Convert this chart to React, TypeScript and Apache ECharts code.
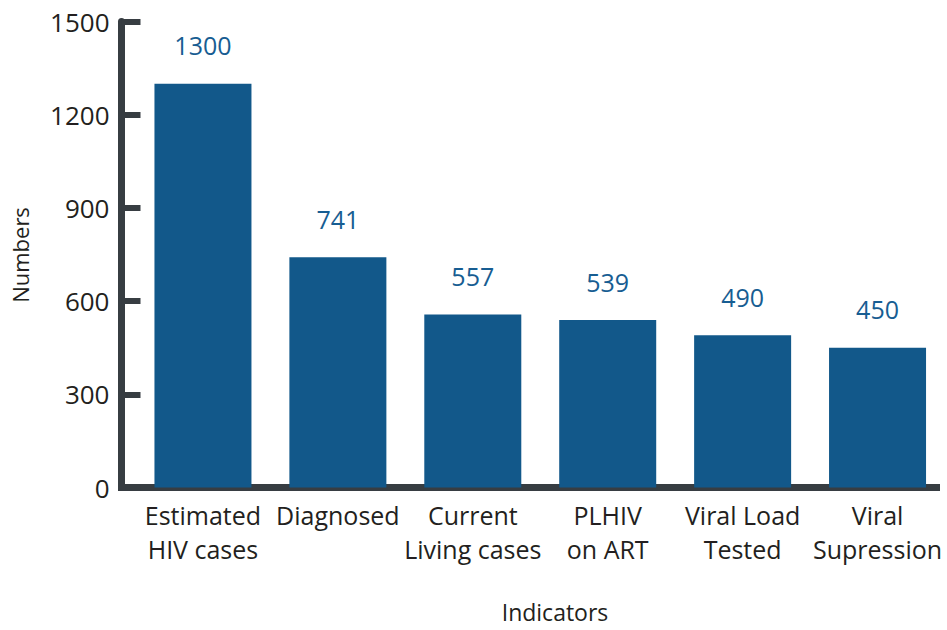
import React, { useEffect, useRef } from "react";
import * as echarts from "echarts";

const categories = [
  "Estimated\nHIV cases",
  "Diagnosed",
  "Current\nLiving cases",
  "PLHIV\non ART",
  "Viral Load\nTested",
  "Viral\nSupression",
];
const values = [1300, 741, 557, 539, 490, 450];
const yTicks = { min: 0, max: 1500, interval: 300 };

const FONT = "Open Sans";
const AXIS = "#373d42";
const BAR = "#12588a";
const LABEL = "#175d92";
const TEXT = "#231f20";

export default function App() {
  const ref = useRef<HTMLDivElement>(null);
  useEffect(() => {
    if (!ref.current) return;
    const chart = echarts.init(ref.current, null, { renderer: "svg" });
    chart.setOption({
      animation: false,
      textStyle: { fontFamily: FONT },
      grid: { left: 135.5, right: 2, top: 21.5, bottom: 142.5, containLabel: false },
      xAxis: {
        type: "category",
        data: categories,
        axisLine: { show: true, lineStyle: { color: AXIS, width: 7 } },
        axisTick: { show: false },
        axisLabel: {
          color: TEXT,
          fontSize: 25,
          fontFamily: FONT,
          lineHeight: 34,
          margin: 10,
          interval: 0,
        },
      },
      yAxis: {
        type: "value",
        min: yTicks.min,
        max: yTicks.max,
        interval: yTicks.interval,
        offset: 14,
        splitLine: { show: false },
        axisLine: { show: true, lineStyle: { color: AXIS, width: 7 } },
        axisTick: { show: true, inside: true, length: 19, lineStyle: { color: AXIS, width: 6 } },
        axisLabel: {
          color: TEXT,
          fontSize: 26,
          fontFamily: FONT,
          margin: 12,
          formatter: (v: number) => String(v),
        },
      },
      series: [
        {
          type: "bar",
          data: values,
          barWidth: 97,
          itemStyle: { color: BAR },
          label: {
            show: true,
            position: "top",
            distance: 26,
            color: LABEL,
            fontSize: 25,
            fontFamily: FONT,
          },
        },
      ],
      graphic: [
        { type: "rect", shape: { x: 118, y: 484, width: 20, height: 7 }, style: { fill: AXIS }, z: 100 },
        { type: "rect", shape: { x: 940, y: 483, width: 7, height: 9 }, style: { fill: "#ffffff" }, z: 100 },
        {
          type: "text",
          x: 555,
          y: 612,
          style: { text: "Indicators", fontSize: 23, fontFamily: FONT, fill: TEXT, align: "center", verticalAlign: "middle" },
        },
        {
          type: "text",
          x: 20,
          y: 255,
          rotation: Math.PI / 2,
          style: { text: "Numbers", fontSize: 22, fontFamily: FONT, fill: TEXT, align: "center", verticalAlign: "middle" },
        },
      ],
    });
    return () => chart.dispose();
  }, []);
  return <div ref={ref} style={{ width: 947, height: 630, position: "absolute", left: 0, top: 0 }} />;
}
